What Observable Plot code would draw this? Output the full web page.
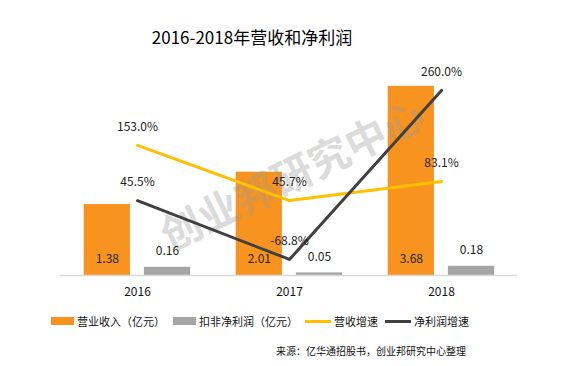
<!DOCTYPE html>
<html>
<head>
<meta charset="utf-8">
<script src="https://cdn.jsdelivr.net/npm/d3@7"></script>
<script src="https://cdn.jsdelivr.net/npm/@observablehq/plot@0.6"></script>
<style>
  html, body { margin: 0; padding: 0; background: #fff; }
  body { width: 584px; height: 366px; position: relative; overflow: hidden;
         font-family: "Noto Sans CJK SC", "Noto Sans", sans-serif; color: #111; }
  #title { position: absolute; left: 0; top: 26px; width: 504px; text-align: center;
           font-size: 17px; line-height: 22px; color: #000; }
  #chart { position: absolute; left: 0; top: 56px; }
  .leg { position: absolute; top: 313px; height: 16px; display: flex; align-items: center;
         font-size: 11px; line-height: 16px; color: #111; white-space: nowrap; }
  .sw { display: inline-block; margin-right: 3px; }
  #source { position: absolute; top: 343px; right: 118px; font-size: 10px; line-height: 16px;
            color: #111; white-space: nowrap; }
</style>
</head>
<body>
<div id="title">2016-2018年营收和净利润</div>
<div id="chart"></div>
<div id="legend"></div>
<div id="source">来源：亿华通招股书，创业邦研究中心整理</div>
<script>
// ---- data ----
const years = ["2016", "2017", "2018"];
const revenue = [1.38, 2.01, 3.68];          // 营业收入（亿元）
const netProfit = [0.16, 0.05, 0.18];        // 扣非净利润（亿元）
const revenueGrowth = [153.0, 45.7, 83.1];   // 营收增速 (%)
const profitGrowth = [45.5, -68.8, 260.0];   // 净利润增速 (%)
const seriesNames = ["营业收入（亿元）", "扣非净利润（亿元）", "营收增速", "净利润增速"];
const colors = ["#F8931F", "#A5A5A5", "#FFC000", "#404040"];
const primaryDomain = [0, 4];       // left axis (亿元)
const growthDomain = [-100, 300];   // right axis (%)
const watermark = "创业邦研究中心";
const titleText = "2016-2018年营收和净利润";

// map secondary axis values onto the primary scale
const toPrimary = v => primaryDomain[0] +
  (v - growthDomain[0]) / (growthDomain[1] - growthDomain[0]) * (primaryDomain[1] - primaryDomain[0]);

const revRows = years.map((year, i) => ({year, value: revenue[i]}));
const npRows = years.map((year, i) => ({year, value: netProfit[i]}));
const rgRows = years.map((year, i) => ({year, value: revenueGrowth[i], y: toPrimary(revenueGrowth[i])}));
const pgRows = years.map((year, i) => ({year, value: profitGrowth[i], y: toPrimary(profitGrowth[i])}));

const fmtPct = v => v.toFixed(1) + "%";
const fmtNum = v => v.toFixed(2);

const font = '"Noto Sans CJK SC", "Noto Sans", sans-serif';

const chart = Plot.plot({
  width: 584,
  height: 248,
  marginLeft: 60,
  marginRight: 67,
  marginTop: 13.4,
  marginBottom: 29,
  style: {fontFamily: font, fontSize: "12px", color: "#111", background: "transparent", overflow: "visible"},
  x: {type: "band", domain: years, padding: 0},
  y: {domain: primaryDomain, axis: null},
  marks: [
    Plot.barY(revRows, {x: "year", y: "value", fill: colors[0], insetLeft: 22.7, insetRight: 83.1}),
    Plot.barY(npRows, {x: "year", y: "value", fill: colors[1], insetLeft: 82.9, insetRight: 22.9}),
    Plot.ruleY([0], {stroke: "#d9d9d9", strokeWidth: 1.5}),
    Plot.axisX({tickSize: 0, tickPadding: 12, label: null, fontSize: 12, fill: "#111"}),
    Plot.text([watermark], {frameAnchor: "middle", text: d => d, rotate: -26, dx: 4, dy: 4,
      fontSize: 41, fontWeight: "bold", fill: "#999", fillOpacity: 0.35}),
    Plot.line(rgRows, {x: "year", y: "y", stroke: colors[2], strokeWidth: 3}),
    Plot.line(pgRows, {x: "year", y: "y", stroke: colors[3], strokeWidth: 3}),
    Plot.text(revRows, {x: "year", y: 0, text: d => fmtNum(d.value), dx: -30.2, dy: -16,
      fontSize: 12, fill: "#222", lineAnchor: "middle"}),
    Plot.text(npRows, {x: "year", y: "value", text: d => fmtNum(d.value), dx: 30, dy: -16,
      fontSize: 12, fill: "#222", lineAnchor: "middle"}),
    Plot.text(rgRows, {x: "year", y: "y", text: d => fmtPct(d.value), dy: -18.5,
      fontSize: 12, fill: "#222", lineAnchor: "middle"}),
    Plot.text(pgRows, {x: "year", y: "y", text: d => fmtPct(d.value), dy: -18.5,
      fontSize: 12, fill: "#222", lineAnchor: "middle"})
  ]
});
document.getElementById("chart").appendChild(chart);

// ---- legend ----
const legendX = [51, 173, 305, 385];
const legend = document.getElementById("legend");
seriesNames.forEach((name, i) => {
  const item = document.createElement("div");
  item.className = "leg";
  item.style.left = legendX[i] + "px";
  const sw = document.createElement("span");
  sw.className = "sw";
  if (i < 2) { sw.style.width = "23px"; sw.style.height = "8px"; }
  else { sw.style.width = "26px"; sw.style.height = "3px"; }
  sw.style.background = colors[i];
  item.appendChild(sw);
  const t = document.createElement("span");
  t.textContent = name;
  item.appendChild(t);
  legend.appendChild(item);
});
</script>
</body>
</html>
